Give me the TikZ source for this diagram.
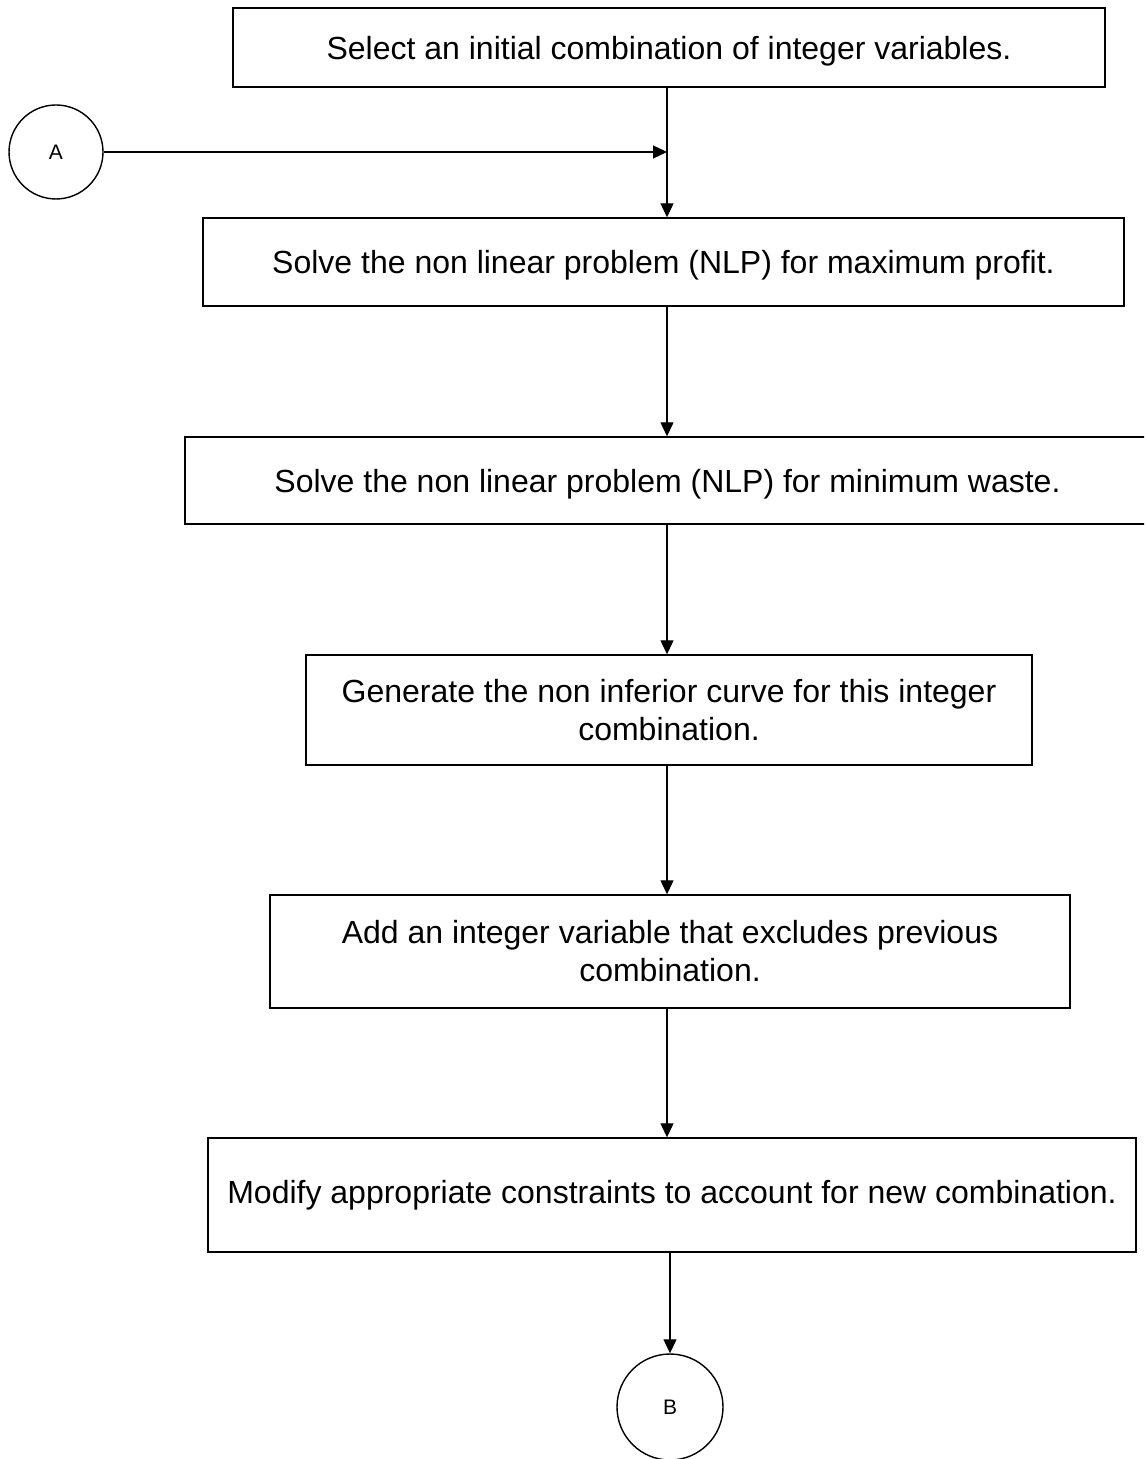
\documentclass[tikz,border=0pt]{standalone}
\usepackage{fontspec}
\setmainfont{Liberation Sans}
\usetikzlibrary{arrows.meta}
% lower a line of text without changing the box it occupies
\newcommand{\lowerline}[1]{\raisebox{-1.8pt}[\height][\depth]{#1}}
\begin{document}
\begin{tikzpicture}[x=0.5pt,y=-0.5pt,
  box/.style={draw, line width=0.7pt, rectangle, inner sep=0pt, align=center,
              font=\fontsize{16}{19}\selectfont},
  conn/.style={draw, circle, line width=0.7pt, inner sep=0pt,
               font=\fontsize{10.5}{12}\selectfont},
  arr/.style={line width=0.6pt, -{Triangle[length=7pt,width=6.5pt]}}]
\useasboundingbox (0,0) rectangle (1144,1459);
\clip (0,0) rectangle (1144,1459);

% process steps
\node[box, minimum width=436pt, minimum height=39.5pt] (b1) at (669,47.5)
  {\lowerline{Select an initial combination of integer variables.}};
\node[box, minimum width=460.5pt, minimum height=44pt] (b2) at (663.5,262)
  {\lowerline{Solve the non linear problem (NLP) for maximum profit.}};
\node[box, minimum width=482.5pt, minimum height=43.5pt] (b3) at (667.5,480.5)
  {\lowerline{Solve the non linear problem (NLP) for minimum waste.}};
\node[box, minimum width=363pt, minimum height=55pt] (b4) at (669,710)
  {Generate the non inferior curve for this integer\\combination.};
\node[box, minimum width=400pt, minimum height=56.5pt] (b5) at (670,951.5)
  {Add an integer variable that excludes previous\\combination.};
\node[box, minimum width=464pt, minimum height=57pt] (b6) at (672,1195)
  {Modify appropriate constraints to account for new combination.};

% off-page connectors
\node[conn, minimum size=47pt] (A) at (56,152) {A};
\node[conn, minimum size=53pt] (B) at (670,1407) {B};

% main flow line
\coordinate (spine) at (667,0);
\draw[arr] (b1.south -| spine) -- (b2.north -| spine);
\draw[arr] (A.east) -- (A.east -| spine);
\draw[arr] (b2.south -| spine) -- (b3.north -| spine);
\draw[arr] (b3.south -| spine) -- (b4.north -| spine);
\draw[arr] (b4.south -| spine) -- (b5.north -| spine);
\draw[arr] (b5.south -| spine) -- (b6.north -| spine);
\draw[arr] (b6.south -| B.north) -- (B.north);
\end{tikzpicture}
\end{document}
